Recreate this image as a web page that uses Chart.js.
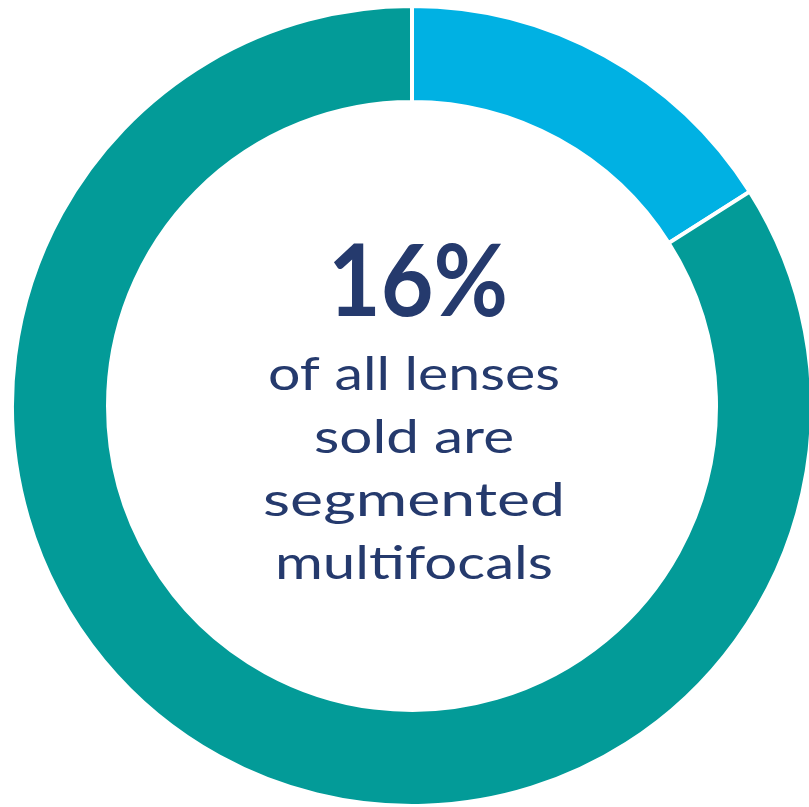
<!DOCTYPE html>
<html>
<head>
<meta charset="utf-8">
<script src="https://cdn.jsdelivr.net/npm/chart.js@4"></script>
<style>
  html, body { margin: 0; padding: 0; background: #fff; overflow: hidden; }
  #wrap { position: absolute; left: 10px; top: 4px; width: 804px; height: 804px; }
</style>
</head>
<body>
<div id="wrap"><canvas id="donut" width="804" height="804"></canvas></div>
<script>
// Share of lenses sold
const labels = ['Segmented multifocals', 'All other lenses'];
const shares = [16, 84];
const colors = ['#00b1e3', '#039b98'];

// Center caption
const headline = '16%';
const captionLines = ['of all lenses', 'sold are', 'segmented', 'multifocals'];

// draws the big number and the caption inside the hole
const centerText = {
  id: 'centerText',
  afterDraw(chart) {
    const ctx = chart.ctx;
    const arc = chart.getDatasetMeta(0).data[0];
    const cx = arc.x + 2;
    const cy = arc.y;
    ctx.save();
    ctx.fillStyle = '#253a6d';
    ctx.textAlign = 'center';
    ctx.textBaseline = 'alphabetic';

    // headline, stretched to the width seen in the picture
    ctx.font = 'bold 100px Lato';
    let w = ctx.measureText(headline).width;
    ctx.save();
    ctx.translate(cx + 4, cy - 90);
    ctx.scale(180 / w, 1);
    ctx.fillText(headline, 0, 0);
    ctx.restore();

    ctx.font = '47px Lato';
    const widths = [292, 200, 302, 278];
    captionLines.forEach((line, i) => {
      w = ctx.measureText(line).width;
      ctx.save();
      ctx.translate(cx, cy - 16 + i * 63);
      ctx.scale(widths[i] / w, 1);
      ctx.fillText(line, 0, 0);
      ctx.restore();
    });
    ctx.restore();
  }
};

new Chart(document.getElementById('donut'), {
  type: 'doughnut',
  data: {
    labels: labels,
    datasets: [{
      data: shares,
      backgroundColor: colors,
      borderColor: '#ffffff',
      borderWidth: 4
    }]
  },
  options: {
    responsive: false,
    animation: false,
    cutout: '76%',
    layout: { padding: 0 },
    plugins: {
      legend: { display: false },
      tooltip: { enabled: false }
    }
  },
  plugins: [centerText]
});
</script>
</body>
</html>
